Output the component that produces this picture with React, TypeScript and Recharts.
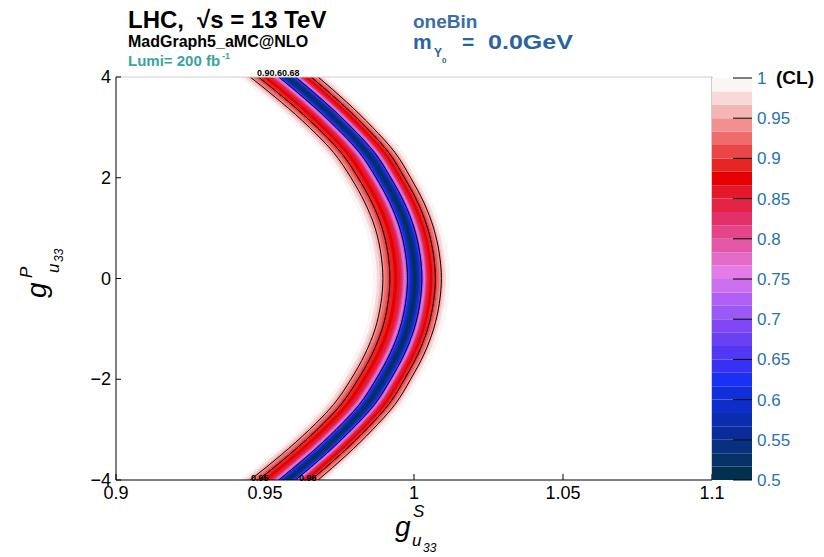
import { ComposedChart, Area, Line, XAxis, YAxis, ReferenceLine, BarChart, Bar } from 'recharts';

const FONT = '"Liberation Sans", Arial, Helvetica, sans-serif';

// rows of the scan, g^P_u33
const gpRows = [-4, -3.5, -3, -2.5, -2, -1.5, -1, -0.5, 0, 0.5, 1, 1.5, 2, 2.5, 3, 3.5, 4];
// g^S_u33 at the CL minimum for each row
const bandCenter = [0.9575, 0.9675, 0.9765, 0.9843, 0.9898, 0.9944, 0.9977, 0.9996, 1.0003, 0.9996, 0.9977, 0.9944, 0.9898, 0.9843, 0.9765, 0.9675, 0.9575];
// horizontal widening of the band where the arc is slanted
const bandStretch = [1.16, 1.12, 1.08, 1.05, 1.02, 1.01, 1, 1, 1, 1, 1, 1.01, 1.02, 1.05, 1.08, 1.12, 1.16];

// colour levels of the CL palette (upper edge of each level)
const clUpper = [
  0.5167, 0.5333, 0.55, 0.5667, 0.5833, 0.6, 0.6167, 0.6333, 0.65, 0.6667,
  0.6833, 0.7, 0.7167, 0.7333, 0.75, 0.7667, 0.7833, 0.8, 0.8167, 0.8333,
  0.85, 0.8667, 0.8833, 0.9, 0.9167, 0.9333, 0.95, 0.9667, 0.9833, 1.0,
];
const clColors = [
  '#043050', '#063068', '#083080', '#0a2c98', '#0c2cb0', '#0e2ec8', '#1030dc', '#1a30f4', '#3830f4', '#5038f4',
  '#6a40f4', '#8048f4', '#9a58f4', '#b060f4', '#cc70f0', '#e47ce8', '#e46cc8', '#e458a8', '#e44488', '#e4306a',
  '#e42446', '#e4182a', '#e60000', '#e82525', '#ea4646', '#ee6c6c', '#f29090', '#f4b5b5', '#f8d8d8', '#fbf5f5',
];
// distance (in g^S) from the minimum to where CL reaches each level, left / right side
const offLeft = [
  0.00027, 0.0005, 0.00074, 0.00097, 0.00117, 0.00144, 0.00168, 0.00191, 0.00211, 0.00232,
  0.00248, 0.00265, 0.00282, 0.00299, 0.00319, 0.00342, 0.00369, 0.00396, 0.00423, 0.00453,
  0.00497, 0.00587, 0.00705, 0.00839, 0.00923, 0.01007, 0.01074, 0.01175, 0.01275, 0.0141,
];
const offRight = [
  0.00027, 0.0005, 0.00074, 0.00094, 0.00114, 0.00138, 0.00161, 0.00181, 0.00201, 0.00218,
  0.00235, 0.00252, 0.00268, 0.00285, 0.00302, 0.00322, 0.00342, 0.00362, 0.00383, 0.00403,
  0.00436, 0.00503, 0.00587, 0.00688, 0.00755, 0.00822, 0.00889, 0.00956, 0.0104, 0.01175,
];
// contour lines drawn at CL 0.68, 0.9, 0.95 (indices into the level arrays)
const contourIdx = [10, 23, 26];

const xTicks = [0.9, 0.95, 1, 1.05, 1.1];
const yTicks = [-4, -2, 0, 2, 4];
const zTicks = [0.5, 0.55, 0.6, 0.65, 0.7, 0.75, 0.8, 0.85, 0.9, 0.95, 1];

const rows = gpRows.map((gp, r) => {
  const row: Record<string, any> = { gp };
  const c = bandCenter[r];
  const s = bandStretch[r];
  clUpper.forEach((_, k) => {
    row[`b${k}`] = [c - offLeft[k] * s, c + offRight[k] * s];
  });
  contourIdx.forEach((k) => {
    row[`cl${k}`] = c - offLeft[k] * s;
    row[`cr${k}`] = c + offRight[k] * s;
  });
  return row;
});

const paletteRow: Record<string, any> = { name: 'CL', base: 0.5 };
clUpper.forEach((u, k) => {
  paletteRow[`z${k}`] = u - (k === 0 ? 0.5 : clUpper[k - 1]);
});

function fmt(v: number) {
  return v < 0 ? `\u2212${-v}` : `${v}`;
}

function XTick({ x, y, payload }: any) {
  return (
    <g>
      <line x1={x} y1={y} x2={x} y2={y - 6} stroke="#000" />
      <text x={x} y={y + 19} textAnchor="middle" fontSize={18} fontFamily={FONT} fill="#000">
        {fmt(payload.value)}
      </text>
    </g>
  );
}

function YTick({ x, y, payload }: any) {
  return (
    <g>
      <line x1={x} y1={y} x2={x + 5} y2={y} stroke="#000" />
      <text x={x - 5} y={y + 6} textAnchor="end" fontSize={18} fontFamily={FONT} fill="#000">
        {fmt(payload.value)}
      </text>
    </g>
  );
}

function ZTick({ x, y, payload }: any) {
  return (
    <g>
      <line x1={x - 19} y1={y} x2={x} y2={y} stroke="#000" />
      <text x={x + 5} y={y + 6} textAnchor="start" fontSize={17} fontFamily={FONT} fill="#2a73ab">
        {payload.value}
      </text>
    </g>
  );
}

export default function App() {
  const levelKeys = clUpper.map((_, k) => k).reverse();
  return (
    <div style={{ position: 'absolute', left: 0, top: 0, width: 824, height: 557, background: '#fff', fontFamily: FONT }}>
      <div style={{ position: 'absolute', left: 0, top: 0 }}>
        <ComposedChart
          width={824}
          height={557}
          data={rows}
          layout="vertical"
          margin={{ top: 77, right: 112, bottom: 47, left: 66 }}
        >
          <XAxis
            type="number"
            domain={[0.9, 1.1]}
            ticks={xTicks}
            allowDataOverflow
            height={30}
            tickSize={0}
            tickMargin={0}
            tickLine={false}
            axisLine={{ stroke: '#000' }}
            tick={<XTick />}
          />
          <YAxis
            type="number"
            dataKey="gp"
            domain={[-4, 4]}
            ticks={yTicks}
            reversed
            allowDataOverflow
            width={50}
            tickSize={0}
            tickMargin={0}
            tickLine={false}
            axisLine={{ stroke: '#000' }}
            tick={<YTick />}
          />
          {levelKeys.map((k) => (
            <Area
              key={`b${k}`}
              dataKey={`b${k}`}
              type="monotone"
              stroke="none"
              fill={clColors[k]}
              fillOpacity={1}
              isAnimationActive={false}
            />
          ))}
          {contourIdx.map((k) => (
            <Line
              key={`cl${k}`}
              dataKey={`cl${k}`}
              type="monotone"
              stroke="#000"
              strokeWidth={1}
              dot={false}
              isAnimationActive={false}
            />
          ))}
          {contourIdx.map((k) => (
            <Line
              key={`cr${k}`}
              dataKey={`cr${k}`}
              type="monotone"
              stroke="#000"
              strokeWidth={1}
              dot={false}
              isAnimationActive={false}
            />
          ))}
          <ReferenceLine y={4} stroke="#cfcfcf" />
          <ReferenceLine x={1.1} stroke="#9a9a9a" />
        </ComposedChart>
      </div>

      <div style={{ position: 'absolute', left: 700, top: 0 }}>
        <BarChart
          width={124}
          height={557}
          data={[paletteRow]}
          margin={{ top: 78, right: 12, bottom: 77, left: 12 }}
          barCategoryGap={0}
          barGap={0}
        >
          <XAxis dataKey="name" type="category" hide />
          <Bar dataKey="base" stackId="z" fill="transparent" isAnimationActive={false} />
          {clUpper.map((_, k) => (
            <Bar key={`z${k}`} dataKey={`z${k}`} stackId="z" fill={clColors[k]} isAnimationActive={false} />
          ))}
          <YAxis
            orientation="right"
            type="number"
            domain={[0.5, 1]}
            ticks={zTicks}
            allowDataOverflow
            width={60}
            tickSize={0}
            tickMargin={0}
            tickLine={false}
            axisLine={false}
            tick={<ZTick />}
          />
        </BarChart>
      </div>

      <svg
        width={824}
        height={557}
        style={{ position: 'absolute', left: 0, top: 0, pointerEvents: 'none' }}
        fontFamily={FONT}
      >
        <text x={128} y={28} fontSize={24} fontWeight="bold" fill="#000">LHC,</text>
        <text x={197} y={28} fontSize={24} fontWeight="bold" fill="#000">√s = 13 TeV</text>
        <text x={128} y={47} fontSize={16} fontWeight="bold" fill="#000">MadGraph5_aMC@NLO</text>
        <text x={128} y={66} fontSize={15} fontWeight="bold" fill="#3aa39e">Lumi= 200 fb</text>
        <text x={222} y={59} fontSize={9} fontWeight="bold" fill="#3aa39e">-1</text>

        <text x={413} y={28} fontSize={19} fontWeight="bold" fill="#3b6ea5">oneBin</text>
        <text x={413} y={49} fontSize={21} fontWeight="bold" fill="#2a64a0">m</text>
        <text x={434} y={57} fontSize={12} fontWeight="bold" fill="#2a64a0">Y</text>
        <text x={442} y={63} fontSize={8} fontWeight="bold" fill="#2a64a0">0</text>
        <text x={462} y={49} fontSize={21} fontWeight="bold" fill="#2a64a0">=</text>
        <text x={488} y={49} fontSize={21} fontWeight="bold" fill="#2a64a0" textLength={85} lengthAdjust="spacingAndGlyphs">0.0GeV</text>

        <text x={776} y={84} fontSize={19} fontWeight="bold" fill="#000">(CL)</text>

        <text x={257} y={76} fontSize={9} fontWeight="bold" fill="#000">0.90.60.68</text>
        <text x={251} y={481} fontSize={9} fontWeight="bold" fill="#000">0.95</text>
        <text x={299} y={481} fontSize={9} fontWeight="bold" fill="#000">0.95</text>

        <g fontStyle="italic" fill="#000">
          <text x={395} y={536} fontSize={28}>g</text>
          <text x={413} y={517} fontSize={17}>S</text>
          <text x={412} y={546} fontSize={17}>u</text>
          <text x={423} y={552} fontSize={12}>33</text>
        </g>
        <g fontStyle="italic" fill="#000" transform="translate(46,298) rotate(-90)">
          <text x={0} y={0} fontSize={28}>g</text>
          <text x={20} y={-14} fontSize={17}>P</text>
          <text x={25} y={13} fontSize={17}>u</text>
          <text x={36} y={17} fontSize={12}>33</text>
        </g>
      </svg>
    </div>
  );
}
